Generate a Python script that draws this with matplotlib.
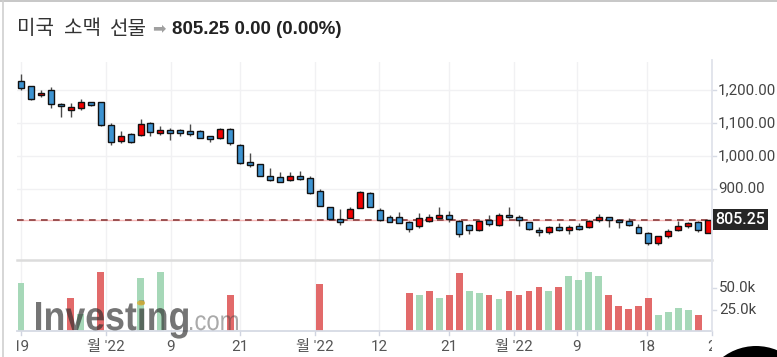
import matplotlib
matplotlib.use('Agg')
import matplotlib.pyplot as plt
from matplotlib.patches import Rectangle, Circle, PathPatch, Ellipse
from matplotlib.transforms import Bbox, Affine2D, IdentityTransform, blended_transform_factory
from matplotlib.textpath import TextPath
from matplotlib.font_manager import FontProperties

# ---------------- data ----------------
opens  = [1227, 1211, 1184, 1200, 1158, 1138, 1146, 1163, 1163, 1094,
          1046, 1066, 1063, 1099, 1070, 1079, 1079, 1077, 1076, 1061,
          1056, 1083, 1033, 981, 976, 938, 936, 926, 939, 932,
          893, 845, 809, 813, 843, 889, 836, 816, 814, 801,
          789, 804, 813, 822, 804, 791, 776, 806, 791, 822,
          816, 799, 777, 771, 785, 775, 788, 785, 805, 814,
          806, 803, 786, 768, 737, 757, 775, 787, 799, 768]
highs  = [1248, 1213, 1199, 1209, 1160, 1160, 1173, 1164, 1164, 1099,
          1077, 1069, 1112, 1104, 1092, 1084, 1081, 1096, 1078, 1062,
          1085, 1084, 1035, 1008, 977, 965, 951, 951, 956, 940,
          900, 846, 839, 845, 893, 890, 842, 820, 831, 803,
          826, 823, 846, 834, 806, 794, 806, 821, 826, 846,
          821, 801, 786, 789, 796, 791, 796, 806, 823, 816,
          809, 811, 793, 770, 759, 778, 803, 801, 803, 806]
lows   = [1199, 1171, 1180, 1144, 1119, 1119, 1139, 1152, 1091, 1033,
          1040, 1040, 1060, 1062, 1064, 1049, 1061, 1061, 1054, 1042,
          1053, 1033, 976, 966, 938, 925, 920, 925, 928, 886,
          847, 808, 791, 811, 842, 845, 804, 800, 796, 771,
          783, 800, 811, 799, 756, 764, 774, 788, 789, 812,
          788, 776, 758, 764, 774, 765, 776, 783, 799, 786,
          783, 788, 766, 730, 730, 753, 772, 781, 771, 767]
closes = [1207, 1173, 1192, 1157, 1151, 1148, 1163, 1154, 1093, 1043,
          1061, 1042, 1097, 1074, 1079, 1070, 1071, 1067, 1056, 1051,
          1083, 1040, 978, 972, 940, 926, 922, 939, 929, 889,
          849, 809, 801, 839, 892, 846, 806, 801, 797, 779,
          813, 814, 821, 809, 763, 776, 804, 793, 820, 814,
          806, 779, 769, 786, 775, 784, 778, 802, 814, 805,
          799, 791, 768, 736, 757, 773, 787, 797, 775, 805.25]

vol_idx = [0, 5, 6, 8, 12, 14, 21, 30,
           39, 40, 41, 42, 43, 44, 45, 46, 47, 48, 49, 50,
           51, 52, 53, 54, 55, 56, 57, 58, 59, 60,
           61, 62, 63, 64, 65, 66, 67, 68]
vol_k   = [56.1, 38.5, 20.0, 69.8, 62.0, 69.8, 42.8, 54.6,
           44.4, 42.8, 46.4, 38.5, 42.8, 68.3, 47.5, 44.4, 41.7, 37.3, 47.5, 41.7,
           47.5, 51.9, 47.5, 51.9, 64.8, 60.4, 69.8, 64.8, 41.7, 29.9,
           25.6, 29.9, 38.5, 18.2, 22.1, 26.8, 24.1, 18.2]
vol_dir = ['g', 'r', 'g', 'r', 'g', 'g', 'r', 'r',
           'r', 'g', 'r', 'g', 'r', 'r', 'g', 'g', 'r', 'g', 'r', 'r',
           'r', 'r', 'g', 'r', 'g', 'g', 'g', 'g', 'r', 'r',
           'r', 'r', 'r', 'g', 'g', 'g', 'g', 'r']

tick_pos    = [0, 8.53, 15.06, 22.0, 29.5, 35.94, 42.97, 49.5, 55.8, 62.85, 69.38]
tick_labels = ['19', "월 '22", '9', '21', "월 '22", '12', '21', "월 '22", '9', '18', '2']
price_ticks = [1200, 1100, 1000, 900]
vol_ticks   = [25, 50]
last_price  = 805.25
title_words = ['미국', '소맥', '선물']
title_value = '805.25 0.00 (0.00%)'

# ---------------- layout ----------------
W, H = 777, 357
fig = plt.figure(figsize=(W / 100, H / 100), dpi=100)
fig.patch.set_facecolor('white')

def fx(px):
    return px / W

def fy(py):
    return 1 - py / H

L, R = 17, 712
axp = fig.add_axes([fx(L), fy(259), fx(R) - fx(L), fy(62) - fy(259)])
axv = fig.add_axes([fx(L), fy(331), fx(R) - fx(L), fy(259) - fy(331)])
for ax in (axp, axv):
    ax.set_xlim(-0.4016, 69.38)
    for s in ax.spines.values():
        s.set_visible(False)
    ax.set_xticks([])
    ax.set_yticks([])
    ax.patch.set_alpha(0)
axp.set_ylim(687.9, 1284.8)
axv.set_ylim(0, 84.5)

GRID = '#f1f1f3'
for t in tick_pos:
    axp.axvline(t, color=GRID, lw=1, zorder=0)
    axv.axvline(t, color=GRID, lw=1, zorder=0)
for p in price_ticks:
    axp.axhline(p, color=GRID, lw=1, zorder=0)

# last price line
axp.axhline(last_price, color='#f6b8b8', lw=1.0, zorder=1)
axp.axhline(last_price, color='#8b3c3c', lw=1.2, dashes=(4, 3.2), zorder=1)

# candles
BLUE = '#3d93d1'
RED = '#f20000'
for i, (o, h, l, c) in enumerate(zip(opens, highs, lows, closes)):
    axp.vlines(i, l, h, color='#4a4a4a', lw=1.0, zorder=2)
    col = RED if c >= o else BLUE
    lo, hi = min(o, c), max(o, c)
    axp.add_patch(Rectangle((i - 0.3, lo), 0.6, max(hi - lo, 1.5), facecolor=col,
                            edgecolor='#111111', lw=1.0, zorder=3))

# volume bars
vcols = ['#a6d8b8' if d == 'g' else '#e26a6a' for d in vol_dir]
axv.bar(vol_idx, vol_k, width=0.68, color=vcols, zorder=2)

# right axis labels
tr_p = blended_transform_factory(axp.transAxes, axp.transData)
tr_v = blended_transform_factory(axv.transAxes, axv.transData)
rfont = dict(family=['Roboto', 'DejaVu Sans'], fontsize=10.9, color='#444444')
for p in price_ticks:
    axp.annotate(f'{p:,.2f}', xy=(1, p), xycoords=tr_p, xytext=(6, 0),
                 textcoords='offset pixels', va='center', ha='left', annotation_clip=False, **rfont)
    axp.plot([1, 1 + 4 / 695], [p, p], transform=tr_p, color='#d6dae4', lw=1, clip_on=False)
for v in vol_ticks:
    axv.annotate(f'{v:.1f}k', xy=(1, v), xycoords=tr_v, xytext=(7, 0),
                 textcoords='offset pixels', va='center', ha='left', annotation_clip=False, **rfont)
    axv.plot([1, 1 + 4 / 695], [v, v], transform=tr_v, color='#d6dae4', lw=1, clip_on=False)

# last price badge
fig.add_artist(Rectangle((713, H - 230), 55, 21.5, transform=IdentityTransform(),
                         facecolor='#262626', edgecolor='none'))
fig.text(fx(740.5), fy(219.5), f'{last_price:.2f}', ha='center', va='center',
         family=['Roboto', 'DejaVu Sans'], fontsize=11.5, color='white', weight='medium')

# x tick labels and marks
tr_x = blended_transform_factory(axv.transData, axv.transAxes)
for t, lab in zip(tick_pos, tick_labels):
    axv.plot([t, t], [0, -4 / 72], transform=tr_x, color='#d0d4e0', lw=1, clip_on=False)
    txt = axv.text(t, -16 / 72, lab, transform=tr_x, ha='center', va='center',
                   family=['Roboto', 'Noto Sans CJK KR'], fontsize=11, color='#555555')
    txt.set_clip_box(Bbox.from_extents(L, 0, R, H))
    txt.set_clip_on(True)

# frame lines
def hline(y, x0, x1, color, lw):
    fig.add_artist(plt.Line2D([fx(x0), fx(x1)], [fy(y), fy(y)], color=color, lw=lw))

def vline(x, y0, y1, color, lw):
    fig.add_artist(plt.Line2D([fx(x), fx(x)], [fy(y0), fy(y1)], color=color, lw=lw))

hline(1, 0, W, '#bdbdbd', 1.2)
vline(3, 0, H, '#cfcfcf', 1.2)
hline(259.5, L, R, '#dcdcdc', 1.8)
hline(331, L, R, '#d6dae4', 1.3)
vline(712, 60, 331, '#e0e3eb', 1.3)

# header
hfont = dict(family=['Noto Sans CJK KR', 'DejaVu Sans'], fontsize=14.5, color='#333333')
for wx, word in zip([17, 64, 109], title_words):
    fig.text(fx(wx), fy(34.5), word, ha='left', va='baseline', **hfont)
fig.text(fx(152), fy(33.5), '\u27a1', ha='left', va='baseline', family='DejaVu Sans',
         fontsize=11.5, color='#a0a0a0')
fig.text(fx(172), fy(34.5), title_value, ha='left', va='baseline',
         family=['Liberation Sans', 'DejaVu Sans'], weight='bold', fontsize=13.5, color='#222222')

# watermark
def path_patch(text, prop, x0, base_y, width, height_ref_text, ref_h, color, alpha):
    tp = TextPath((0, 0), text, size=1, prop=prop)
    ext = tp.get_extents()
    ref = TextPath((0, 0), height_ref_text, size=1, prop=prop).get_extents()
    sx = width / ext.width
    sy = ref_h / ref.height
    tr = Affine2D().translate(-ext.x0, 0).scale(sx, sy).translate(x0, H - base_y)
    fig.add_artist(PathPatch(tp, transform=tr, facecolor=color, edgecolor='none',
                             alpha=alpha, zorder=10))

bold = FontProperties(family='Liberation Sans', weight='bold')
reg = FontProperties(family='Liberation Sans')
path_patch('Investing', bold, 36, 330, 152, 'I', 28, '#2e2e2e', 0.66)
path_patch('.com', reg, 190, 330, 48, 'c', 15, '#444444', 0.45)
fig.add_artist(Ellipse((141, H - 303), 8, 5, transform=IdentityTransform(),
                       facecolor='#d9b43a', edgecolor='none', alpha=0.85, zorder=11))

# bottom-right dark circle
fig.add_artist(Circle((756, H - 401), 55, transform=IdentityTransform(),
                      facecolor='black', edgecolor='none', zorder=12))

fig.savefig('out.png', dpi=100, facecolor='white')
